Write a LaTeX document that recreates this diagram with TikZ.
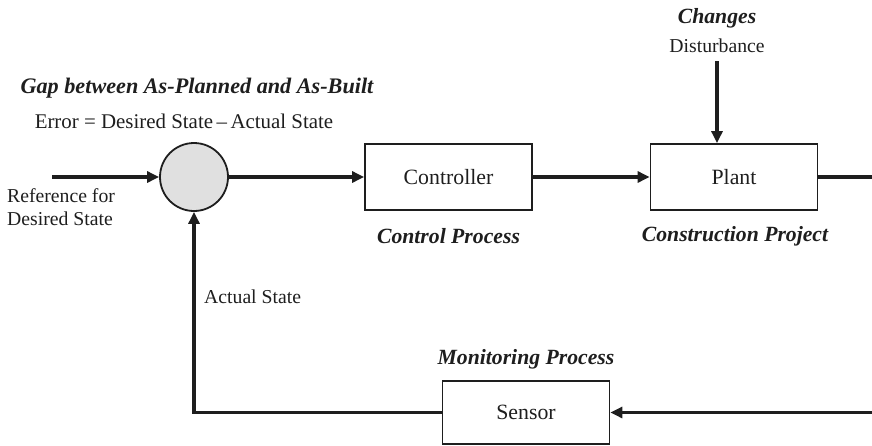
\documentclass[tikz,border=0pt]{standalone}
\usepackage{fontspec}
\setmainfont{Liberation Serif}
\usetikzlibrary{arrows.meta}
\definecolor{ink}{HTML}{1E1E1E}
\definecolor{sumfill}{HTML}{E0E0E0}
\tikzset{
  blockbox/.style={draw=ink, line width=1.8pt, minimum width=167pt, minimum height=66pt, inner sep=0pt, font=\fontsize{21.8}{24}\selectfont, text=ink},
  sumnode/.style={circle, draw=ink, line width=1.8pt, fill=sumfill, minimum size=68pt, inner sep=0pt},
  sig/.style={draw=ink, line width=3.8pt},
  sigarrow/.style={sig, -{Triangle[length=12pt, width=11pt]}},
  lbl/.style={font=\fontsize{19.7}{23}\selectfont, text=ink, inner sep=0pt},
  ttl/.style={font=\fontsize{21.7}{24}\selectfont\bfseries\itshape, text=ink, inner sep=0pt},
}
\begin{document}
\begin{tikzpicture}[x=1pt, y=-1pt]
\useasboundingbox (0,0) rectangle (872,445);
% nodes
\node[sumnode] (sum) at (194,177) {};
\node[blockbox] (ctrl) at (448.5,177) {Controller};
\node[blockbox] (plant) at (734,177) {Plant};
\node[blockbox, minimum height=63pt] (sensor) at (526,412.5) {Sensor};
% labels
\node[ttl, font=\fontsize{22.2}{24}\selectfont\bfseries\itshape] (gap) at (197,88) {Gap between As-Planned and As-Built};
\node[lbl, font=\fontsize{20.9}{23}\selectfont] (err) at (184,121) {Error = Desired State\,--\,Actual State};
\node[lbl, align=left, anchor=west] (ref) at (7,207) {Reference for\\Desired State};
\node[ttl] (cp) at (448.5,236) {Control Process};
\node[ttl] (cpr) at (735,236) {Construction Project};
\node[ttl] (chg) at (717,18) {Changes};
\node[lbl] (dist) at (717,46) {Disturbance};
\node[lbl, anchor=west] (act) at (204,297) {Actual State};
\node[ttl] (mon) at (526,359) {Monitoring Process};
% connector end points
\coordinate (inL) at (52,177);
\coordinate (dTop) at (717,61);
\coordinate (outR) at (873,177);
\coordinate (fbR) at (873,412.5);
\coordinate (fbL) at (194,412.5);
% connectors
\draw[sigarrow] (inL) -- (sum.west);
\draw[sigarrow] (sum.east) -- (ctrl.west);
\draw[sigarrow] (ctrl.east) -- (plant.west);
\draw[sigarrow] (dTop) -- (dTop |- plant.north);
\draw[sig] (plant.east) -- (outR);
\draw[sigarrow] (fbR) -- (sensor.east);
\draw[sigarrow] (sensor.west) -- (fbL) -- (sum.south);
\end{tikzpicture}
\end{document}
